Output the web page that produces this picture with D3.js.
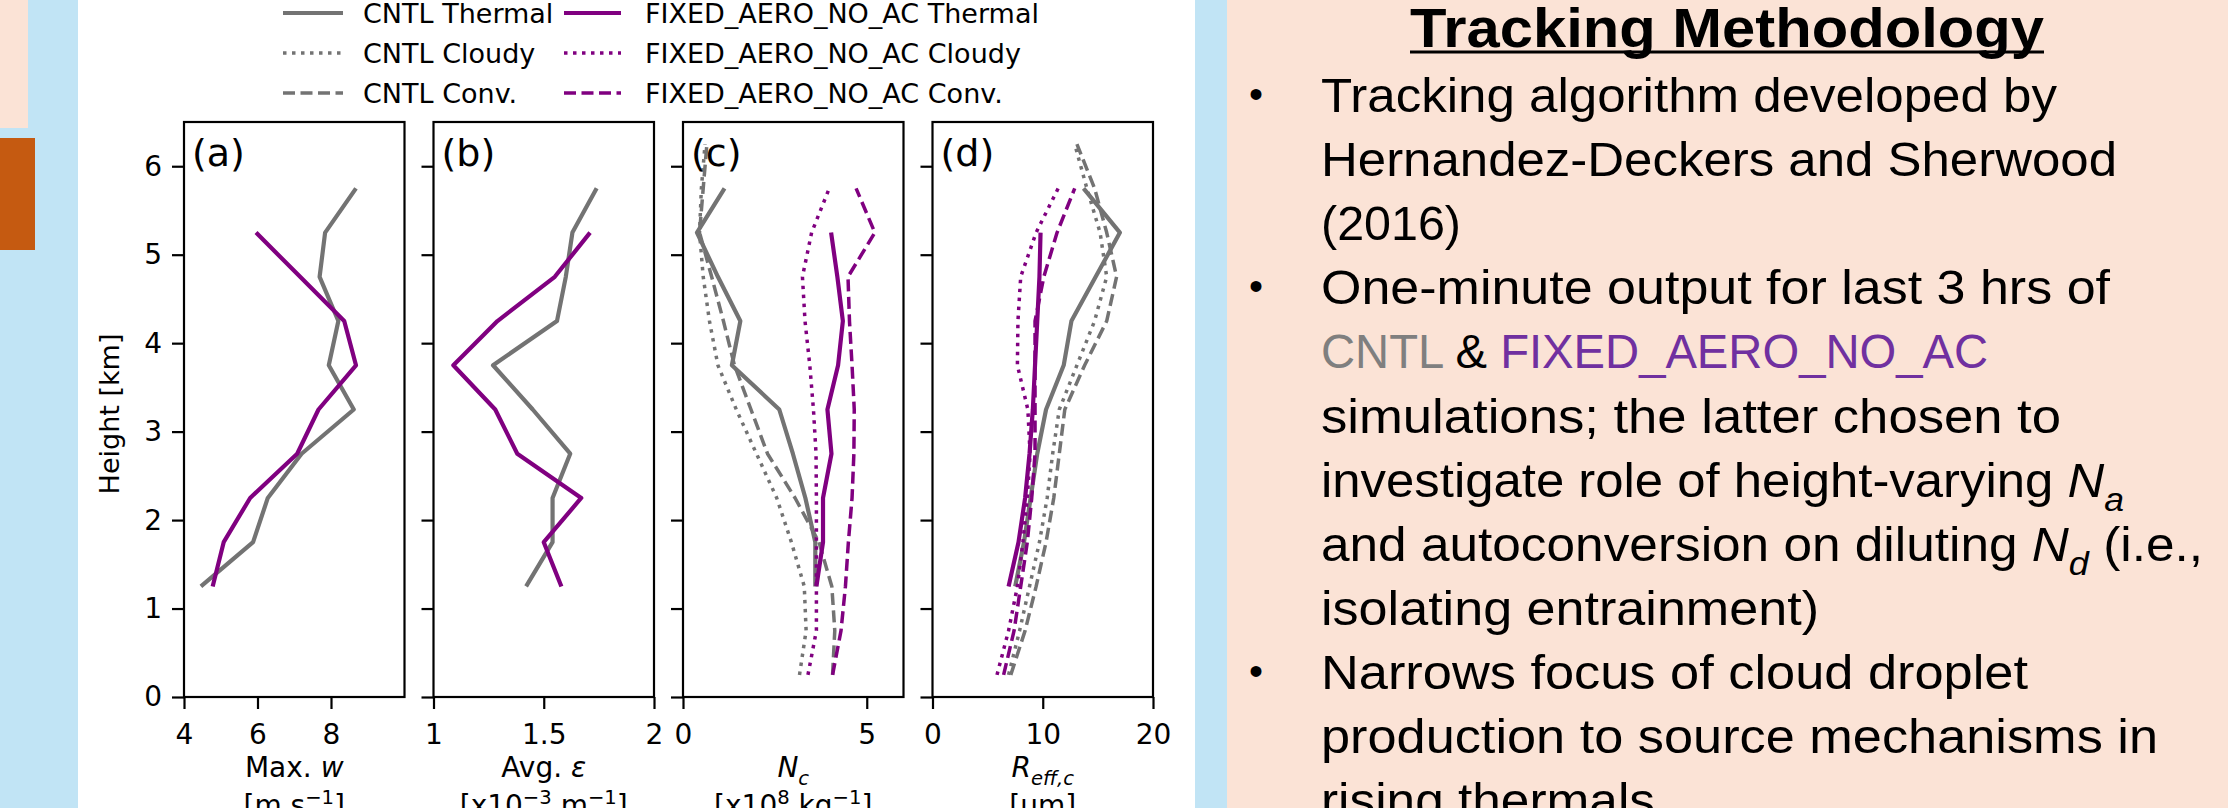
<!DOCTYPE html>
<html>
<head>
<meta charset="utf-8">
<script src="https://cdn.jsdelivr.net/npm/d3@7"></script>
<style>
  body { margin: 0; background: #fff; }
  svg { display: block; }
</style>
</head>
<body>
<svg id="chart" width="2228" height="808"></svg>
<script>
// heights [km] of the thermal bins and of the cloudy / convective profiles
var thermalHeights = [1.25, 1.75, 2.25, 2.75, 3.25, 3.75, 4.25, 4.75, 5.25, 5.75];
var profileHeights = [0.25, 0.75, 1.25, 1.75, 2.25, 2.75, 3.25, 3.75, 4.25, 4.75, 5.25, 5.75, 6.25];

// (a) max. w [m/s]
var wCntlThermal  = [4.46, 5.88, 6.28, 7.2, 8.62, 7.94, 8.2, 7.69, 7.84, 8.68];
var wFixedThermal = [4.78, 5.08, 5.80, 7.08, 7.66, 8.68, 8.36, 7.16, 5.96];

// (b) avg. epsilon [x10^-3 m^-1]
var epsCntlThermal  = [1.42, 1.54, 1.54, 1.62, 1.45, 1.27, 1.56, 1.60, 1.63, 1.74];
var epsFixedThermal = [1.58, 1.50, 1.67, 1.38, 1.28, 1.09, 1.29, 1.55, 1.71];

// (c) Nc [x10^8 kg^-1]
var ncCntlThermal  = [3.6, 3.6, 3.33, 2.99, 2.62, 1.33, 1.56, 0.95, 0.38, 1.13];
var ncCntlCloudy   = [3.17, 3.35, 3.3, 2.95, 2.55, 2.0, 1.45, 0.95, 0.72, 0.55, 0.45, 0.5, 0.6];
var ncCntlConv     = [4.07, 4.13, 4.05, 3.7, 3.05, 2.3, 1.85, 1.4, 1.1, 0.78, 0.45, 0.55, 0.65];
var ncFixedThermal = [3.63, 3.81, 3.81, 4.04, 3.93, 4.22, 4.35, 4.2, 4.03];
var ncFixedCloudy  = [3.4, 3.63, 3.63, 3.63, 3.63, 3.62, 3.55, 3.45, 3.32, 3.25, 3.5, 3.98];
var ncFixedConv    = [4.07, 4.3, 4.42, 4.5, 4.6, 4.65, 4.66, 4.6, 4.53, 4.49, 5.22, 4.71];

// (d) Reff,c [um]
var reCntlThermal  = [7.5, 8.3, 8.9, 9.5, 10.3, 11.9, 12.6, 14.8, 17.0, 13.7];
var reCntlCloudy   = [6.9, 7.9, 8.8, 9.7, 10.4, 10.9, 11.5, 13.1, 14.7, 15.8, 15.2, 14.0, 12.9];
var reCntlConv     = [7.1, 8.4, 9.4, 10.3, 11.0, 11.5, 12.0, 13.8, 15.8, 16.7, 15.8, 14.7, 13.1];
var reFixedThermal = [6.9, 7.8, 8.4, 8.8, 9.1, 9.3, 9.5, 9.7, 9.8];
var reFixedCloudy  = [5.85, 6.9, 7.7, 8.2, 8.6, 8.85, 8.65, 7.7, 7.75, 8.0, 9.4, 11.4];
var reFixedConv    = [6.45, 7.4, 8.0, 8.6, 9.0, 9.3, 9.3, 9.3, 9.3, 10.1, 11.3, 12.9];

var heightTicks = [0, 1, 2, 3, 4, 5, 6];
var panelLabels = ["(a)", "(b)", "(c)", "(d)"];
var xDomains = [[4, 10], [1, 2], [0, 6], [0, 20]];
var xTicks = [[4, 6, 8], [1, 1.5, 2], [0, 5], [0, 10, 20]];

var legendNames = [
  ["CNTL Thermal", "CNTL Cloudy", "CNTL Conv."],
  ["FIXED_AERO_NO_AC Thermal", "FIXED_AERO_NO_AC Cloudy", "FIXED_AERO_NO_AC Conv."]
];

var xLabels = [
  [{t: "Max. "}, {t: "w", i: true}],
  [{t: "Avg. "}, {t: "ε", i: true}],
  [{t: "N", i: true}, {t: "c", i: true, sub: true}],
  [{t: "R", i: true}, {t: "eff,c", i: true, sub: true}]
];
var xUnits = [
  [{t: "[m s"}, {t: "−1", sup: true}, {t: "]"}],
  [{t: "[x10"}, {t: "−3", sup: true}, {t: " m"}, {t: "−1", sup: true}, {t: "]"}],
  [{t: "[x10"}, {t: "8", sup: true}, {t: " kg"}, {t: "−1", sup: true}, {t: "]"}],
  [{t: "[μm]"}]
];

// text block on the right
var textLines = [
  [{t: "Tracking algorithm developed by"}],
  [{t: "Hernandez-Deckers and Sherwood"}],
  [{t: "(2016)"}],
  [{t: "One-minute output for last 3 hrs of"}],
  [{t: "CNTL", c: "#7f7f7f"}, {t: " & "}, {t: "FIXED_AERO_NO_AC", c: "#7030a0"}],
  [{t: "simulations; the latter chosen to"}],
  [{t: "investigate role of height-varying "}, {t: "N", i: true}, {t: "a", i: true, sub: true}],
  [{t: "and autoconversion on diluting "}, {t: "N", i: true}, {t: "d", i: true, sub: true}, {t: " (i.e.,"}],
  [{t: "isolating entrainment)"}],
  [{t: "Narrows focus of cloud droplet"}],
  [{t: "production to source mechanisms in"}],
  [{t: "rising thermals"}]
];
var bulletLines = [0, 3, 9];
var lineWidths = [736, 796, 140, 789, 667, 740, 803, 882, 498, 707, 837, 334];

var gray = "#737373", purple = "#800080";
var styles = {
  thermal: {dash: null, width: 4.2},
  cloudy: {dash: "3.5,5.5", width: 3.5},
  conv: {dash: "12,5.5", width: 3.5}
};
var chartFont = "DejaVu Sans";

var svg = d3.select("#chart");

// poster background pieces
svg.append("rect").attr("width", 2228).attr("height", 808).attr("fill", "#fff");
svg.append("rect").attr("x", 0).attr("y", 0).attr("width", 78).attr("height", 808).attr("fill", "#c1e4f5");
svg.append("rect").attr("x", 0).attr("y", 0).attr("width", 28).attr("height", 128).attr("fill", "#fbe3d6");
svg.append("rect").attr("x", 0).attr("y", 138).attr("width", 35).attr("height", 112).attr("fill", "#c55a11");
svg.append("rect").attr("x", 1195).attr("y", 0).attr("width", 32).attr("height", 808).attr("fill", "#c1e4f5");
svg.append("rect").attr("x", 1227).attr("y", 0).attr("width", 1001).attr("height", 808).attr("fill", "#fbe3d6");

// tspans with italic / sub / superscript pieces
function addParts(text, parts, size) {
  var shift = 0;
  parts.forEach(function(p) {
    var target = p.sub ? size * 0.3 : (p.sup ? -size * 0.38 : 0);
    var ts = text.append("tspan").text(p.t);
    if (target !== shift) ts.attr("dy", target - shift);
    shift = target;
    if (p.sub || p.sup) ts.attr("font-size", size * 0.7);
    if (p.i) ts.attr("font-style", "italic");
    if (p.c) ts.attr("fill", p.c);
  });
}

var y = d3.scaleLinear().domain([0, 6.5]).range([697, 122]);
var panelLeft = [184, 433.5, 683, 932.5], panelW = 220.5;

var panelSeries = [
  [
    {v: wCntlThermal, h: thermalHeights, c: gray, k: "thermal"},
    {v: wFixedThermal, h: thermalHeights, c: purple, k: "thermal"}
  ],
  [
    {v: epsCntlThermal, h: thermalHeights, c: gray, k: "thermal"},
    {v: epsFixedThermal, h: thermalHeights, c: purple, k: "thermal"}
  ],
  [
    {v: ncCntlThermal, h: thermalHeights, c: gray, k: "thermal"},
    {v: ncCntlCloudy, h: profileHeights, c: gray, k: "cloudy"},
    {v: ncCntlConv, h: profileHeights, c: gray, k: "conv"},
    {v: ncFixedThermal, h: thermalHeights, c: purple, k: "thermal"},
    {v: ncFixedCloudy, h: profileHeights, c: purple, k: "cloudy"},
    {v: ncFixedConv, h: profileHeights, c: purple, k: "conv"}
  ],
  [
    {v: reCntlThermal, h: thermalHeights, c: gray, k: "thermal"},
    {v: reCntlCloudy, h: profileHeights, c: gray, k: "cloudy"},
    {v: reCntlConv, h: profileHeights, c: gray, k: "conv"},
    {v: reFixedThermal, h: thermalHeights, c: purple, k: "thermal"},
    {v: reFixedCloudy, h: profileHeights, c: purple, k: "cloudy"},
    {v: reFixedConv, h: profileHeights, c: purple, k: "conv"}
  ]
];

panelSeries.forEach(function(series, i) {
  var left = panelLeft[i];
  var x = d3.scaleLinear().domain(xDomains[i]).range([left, left + panelW]);
  var g = svg.append("g");
  var line = d3.line().x(d => x(d[0])).y(d => y(d[1]));

  series.forEach(function(s) {
    var pts = s.v.map((v, k) => [v, s.h[k]]);
    g.append("path")
      .attr("d", line(pts))
      .attr("fill", "none")
      .attr("stroke", s.c)
      .attr("stroke-width", styles[s.k].width)
      .attr("stroke-dasharray", styles[s.k].dash)
      .attr("stroke-linejoin", "round");
  });

  g.append("rect")
    .attr("x", left).attr("y", y(6.5))
    .attr("width", panelW).attr("height", y(0) - y(6.5))
    .attr("fill", "none").attr("stroke", "#000").attr("stroke-width", 2.2);

  var xa = g.append("g").attr("transform", "translate(0," + y(0) + ")")
    .call(d3.axisBottom(x).tickValues(xTicks[i]).tickFormat(d3.format("~g")).tickSize(12).tickPadding(15));
  xa.select(".domain").remove();
  xa.selectAll("line").attr("stroke", "#000").attr("stroke-width", 2.2);
  xa.selectAll("text").attr("font-family", chartFont).attr("font-size", 28).attr("fill", "#000");

  var ya = g.append("g").attr("transform", "translate(" + left + ",0)")
    .call(d3.axisLeft(y).tickValues(heightTicks).tickFormat(d3.format("d")).tickSize(12).tickPadding(10));
  ya.select(".domain").remove();
  ya.selectAll("line").attr("stroke", "#000").attr("stroke-width", 2.2);
  if (i === 0) {
    ya.selectAll("text").attr("font-family", chartFont).attr("font-size", 28).attr("fill", "#000");
  } else {
    ya.selectAll("text").remove();
  }

  g.append("text")
    .attr("x", left + 8).attr("y", 166)
    .attr("font-family", chartFont).attr("font-size", 38)
    .text(panelLabels[i]);

  var cx = left + panelW / 2;
  var lab = g.append("text").attr("x", cx).attr("y", 777).attr("text-anchor", "middle")
    .attr("font-family", chartFont).attr("font-size", 28);
  addParts(lab, xLabels[i], 28);
  var unit = g.append("text").attr("x", cx).attr("y", 815).attr("text-anchor", "middle")
    .attr("font-family", chartFont).attr("font-size", 28);
  addParts(unit, xUnits[i], 28);
});

svg.append("text")
  .attr("transform", "translate(119,414) rotate(-90)")
  .attr("text-anchor", "middle")
  .attr("font-family", chartFont).attr("font-size", 27)
  .text("Height [km]");

// legend
var legendKinds = ["thermal", "cloudy", "conv"];
var legendCols = [{x0: 283, x1: 343, tx: 363, c: gray}, {x0: 564, x1: 621, tx: 645, c: purple}];
legendCols.forEach(function(col, ci) {
  legendKinds.forEach(function(k, ri) {
    var yy = 13 + ri * 40;
    svg.append("line")
      .attr("x1", col.x0).attr("x2", col.x1).attr("y1", yy).attr("y2", yy)
      .attr("stroke", col.c).attr("stroke-width", styles[k].width)
      .attr("stroke-dasharray", styles[k].dash);
    svg.append("text")
      .attr("x", col.tx).attr("y", yy + 10)
      .attr("font-family", chartFont).attr("font-size", 27)
      .text(legendNames[ci][ri]);
  });
});

// right hand text panel
var bodyFont = "'Liberation Sans', Arial, sans-serif";
svg.append("text")
  .attr("x", 1727).attr("y", 47).attr("text-anchor", "middle")
  .attr("font-family", bodyFont).attr("font-size", 56).attr("font-weight", "bold")
  .attr("textLength", 634).attr("lengthAdjust", "spacingAndGlyphs")
  .text("Tracking Methodology");
svg.append("line")
  .attr("x1", 1410).attr("x2", 2044).attr("y1", 52).attr("y2", 52)
  .attr("stroke", "#000").attr("stroke-width", 3);

var base0 = 112, lineStep = 64.1;
textLines.forEach(function(parts, i) {
  var t = svg.append("text")
    .attr("x", 1321).attr("y", base0 + i * lineStep)
    .attr("font-family", bodyFont).attr("font-size", 48).attr("fill", "#000")
    .attr("textLength", lineWidths[i]).attr("lengthAdjust", "spacingAndGlyphs");
  addParts(t, parts, 48);
});
bulletLines.forEach(function(i) {
  svg.append("text")
    .attr("x", 1256).attr("y", base0 + i * lineStep - 4)
    .attr("text-anchor", "middle")
    .attr("font-family", bodyFont).attr("font-size", 40)
    .text("•");
});
</script>
</body>
</html>
